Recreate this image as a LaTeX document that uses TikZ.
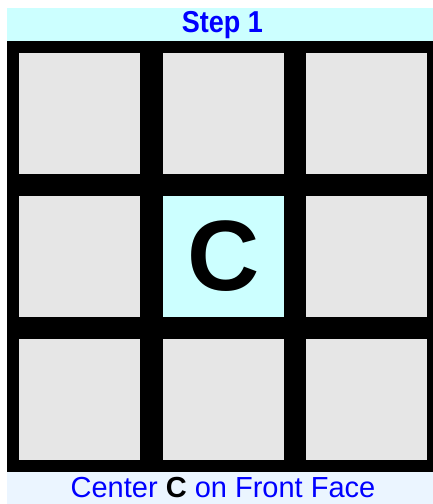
\documentclass[tikz,border=0pt]{standalone}
\usepackage{fontspec}
\usepackage{graphicx}
\setmainfont{Liberation Sans}
\definecolor{bandcyan}{HTML}{CCFFFF}
\definecolor{bandblue}{HTML}{EBF5FF}
\definecolor{cellgray}{HTML}{E6E6E6}
\definecolor{textblue}{HTML}{0000FF}
\tikzset{
    cellbox/.style = {fill = cellgray, minimum width = 121pt, minimum height = 121pt, inner sep = 0pt},
    bandbox/.style = {minimum width = 426pt, inner sep = 0pt, text = textblue}
}
\begin{document}
\begin{tikzpicture}[x = 1pt, y = -1pt]
        \useasboundingbox (0,0) rectangle (433,504);

        % title
        \node[bandbox, fill = bandcyan, minimum height = 33pt] (title) at (220,24.5) {};
        \node[text = textblue, inner sep = 0pt, font = \fontsize{27}{27}\selectfont\bfseries] (titletext) at (222.5,25) {\scalebox{1}[1.12]{Step 1}};

        % face
        \fill[black] (7,41) rectangle (433,472);

        % top row
        \node[cellbox] (c11) at ( 79.5,113) {};
        \node[cellbox] (c12) at (223.5,113) {};
        \node[cellbox] (c13) at (366.5,113) {};

        % middle row
        \node[cellbox] (c21) at ( 79.5,256.5) {};
        \node[cellbox, fill = bandcyan, font = \fontsize{100}{100}\selectfont\bfseries] (c22) at (223.5,256.5) {C};
        \node[cellbox] (c23) at (366.5,256.5) {};

        % bottom row
        \node[cellbox] (c31) at ( 79.5,399.5) {};
        \node[cellbox] (c32) at (223.5,399.5) {};
        \node[cellbox] (c33) at (366.5,399.5) {};

        % caption
        \node[bandbox, fill = bandblue, minimum height = 32pt] (caption) at (220,488) {};
        \node[text = textblue, font = \fontsize{29}{29}\selectfont] (captiontext) at (223,488) {Center \textcolor{black}{\bfseries C} on Front Face};
    \end{tikzpicture}
\end{document}
